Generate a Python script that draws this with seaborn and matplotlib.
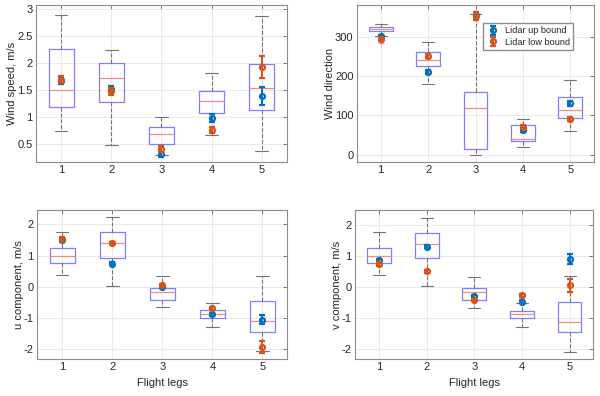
import numpy as np
import pandas as pd
import matplotlib
matplotlib.use("Agg")
import matplotlib.pyplot as plt
import seaborn as sns
from matplotlib.ticker import FuncFormatter

legs = [1, 2, 3, 4, 5]

# box stats per leg: lower whisker, q1, median, q3, upper whisker
speed_box = [[0.75, 1.19, 1.50, 2.27, 2.90],
             [0.48, 1.28, 1.72, 2.00, 2.24],
             [0.30, 0.51, 0.69, 0.82, 1.00],
             [0.67, 1.07, 1.30, 1.48, 1.82],
             [0.38, 1.13, 1.54, 1.99, 2.88]]
dir_box = [[303, 316, 322, 326, 335],
           [181, 227, 241, 261, 289],
           [0, 15, 119, 161, 360],
           [19, 34, 40, 76, 91],
           [59, 94, 114, 147, 190]]
u_box = [[0.39, 0.76, 1.00, 1.25, 1.77],
         [0.02, 0.92, 1.40, 1.75, 2.23],
         [-0.65, -0.43, -0.18, -0.05, 0.34],
         [-1.29, -1.00, -0.87, -0.74, -0.51],
         [-2.06, -1.43, -1.10, -0.46, 0.35]]
v_box = [[0.39, 0.77, 1.01, 1.26, 1.77],
         [0.03, 0.94, 1.38, 1.74, 2.23],
         [-0.65, -0.42, -0.16, -0.03, 0.34],
         [-1.28, -0.99, -0.86, -0.75, -0.51],
         [-2.07, -1.43, -1.11, -0.46, 0.35]]

# outliers (wind direction only)
dir_out_x = [1]
dir_out_y = [285]

# lidar estimates
speed_up = [1.68, 1.52, 0.31, 0.99, 1.40]
speed_up_err = [0.07, 0.06, 0.04, 0.07, 0.17]
speed_low = [1.70, 1.48, 0.41, 0.76, 1.93]
speed_low_err = [0.07, 0.06, 0.06, 0.06, 0.21]

dir_up = [302, 210, 357, 62, 131]
dir_up_err = [4, 5, 8, 5, 6]
dir_low = [296, 251, 354, 70, 92]
dir_low_err = [5, 5, 10, 5, 5]

u_up = [1.49, 0.74, 0.01, -0.87, -1.05]
u_up_err = [0.05, 0.05, 0.04, 0.05, 0.15]
u_low = [1.54, 1.40, 0.05, -0.69, -1.93]
u_low_err = [0.05, 0.04, 0.04, 0.05, 0.20]

v_up = [0.87, 1.31, -0.29, -0.46, 0.91]
v_up_err = [0.04, 0.05, 0.04, 0.05, 0.16]
v_low = [0.75, 0.51, -0.40, -0.25, 0.06]
v_low_err = [0.05, 0.04, 0.04, 0.05, 0.20]

sns.set_theme(style="whitegrid")
plt.rcParams['font.family'] = ['Liberation Sans', 'DejaVu Sans']
plt.rcParams['axes.edgecolor'] = '0.55'
plt.rcParams['grid.color'] = '0.9'
plt.rcParams['grid.linewidth'] = 0.6

blue = '#0072BD'
orange = '#D95319'

fig = plt.figure(figsize=(6, 3.96), dpi=100)
positions = [[0.060, 0.591, 0.418, 0.396],
             [0.595, 0.591, 0.395, 0.396],
             [0.062, 0.094, 0.417, 0.375],
             [0.592, 0.094, 0.397, 0.375]]

panels = [
    (speed_box, speed_up, speed_up_err, speed_low, speed_low_err, 'Wind speed, m/s', (0.17, 3.08), [0.5, 1, 1.5, 2, 2.5, 3]),
    (dir_box, dir_up, dir_up_err, dir_low, dir_low_err, 'Wind direction', (-19, 382), [0, 100, 200, 300]),
    (u_box, u_up, u_up_err, u_low, u_low_err, 'u component, m/s', (-2.3, 2.45), [-2, -1, 0, 1, 2]),
    (v_box, v_up, v_up_err, v_low, v_low_err, 'v component, m/s', (-2.3, 2.48), [-2, -1, 0, 1, 2]),
]

for i, (box, up, up_err, low, low_err, ylabel, ylim, yticks) in enumerate(panels):
    ax = fig.add_axes(positions[i])
    df = pd.DataFrame({'leg': np.repeat(legs, 5), 'value': np.ravel(box)})
    sns.boxplot(data=df, x='leg', y='value', native_scale=True, whis=(0, 100),
                width=0.5, fill=False, showfliers=False, linewidth=0.9,
                boxprops=dict(color='#7f7fff'),
                medianprops=dict(color='#f08c8c'),
                whiskerprops=dict(color='0.45', linestyle='--', linewidth=0.8),
                capprops=dict(color='0.45', linewidth=0.8),
                ax=ax)
    if i == 1:
        sns.scatterplot(x=dir_out_x, y=dir_out_y, marker='+', color='#f08c8c',
                        s=18, linewidth=0.8, ax=ax, zorder=3)
    ax.errorbar(legs, up, yerr=up_err, fmt='o', color=blue, mfc='none', ms=3.6,
                mew=1.6, elinewidth=1.4, capsize=2, capthick=1.4, label='Lidar up bound', zorder=4)
    ax.errorbar(legs, low, yerr=low_err, fmt='o', color=orange, mfc='none', ms=3.6,
                mew=1.6, elinewidth=1.4, capsize=2, capthick=1.4, label='Lidar low bound', zorder=5)
    ax.set_xlim(0.5, 5.5)
    ax.set_ylim(*ylim)
    ax.set_xticks(legs)
    ax.set_yticks(yticks)
    ax.yaxis.set_major_formatter(FuncFormatter(lambda v, p: '%g' % v))
    ax.set_ylabel(ylabel, fontsize=8, color='0.15', labelpad=0)
    if i >= 2:
        ax.set_xlabel('Flight legs', fontsize=8, color='0.15', labelpad=4)
    else:
        ax.set_xlabel('')
    ax.tick_params(direction='in', top=True, right=True, length=3, width=0.6,
                   color='0.4', labelsize=8, labelcolor='0.15', pad=2.5)
    ax.grid(True)
    for s in ax.spines.values():
        s.set_linewidth(0.8)
    if i == 1:
        ax.legend(loc='upper left', bbox_to_anchor=(0.532, 0.885), borderaxespad=0,
                  fontsize=6.6, frameon=True, fancybox=False, edgecolor='0.55',
                  framealpha=1, borderpad=0.35, handlelength=1.4, handletextpad=0.6,
                  labelspacing=0.25)

plt.savefig('out.png', dpi=100)
